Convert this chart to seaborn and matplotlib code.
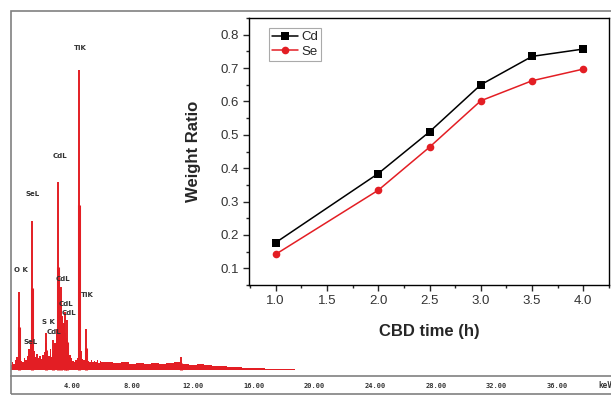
import numpy as np
import pandas as pd
import matplotlib
matplotlib.use("Agg")
import matplotlib.pyplot as plt
import matplotlib.patches as patches
from matplotlib.ticker import MultipleLocator, FormatStrFormatter
import seaborn as sns

# --- inset data: weight ratio vs CBD time ---
cbd_time = [1.0, 2.0, 2.5, 3.0, 3.5, 4.0]
cd_ratio = [0.177, 0.384, 0.509, 0.650, 0.735, 0.757]
se_ratio = [0.142, 0.334, 0.463, 0.602, 0.662, 0.697]

# --- EDS spectrum (background counts, arbitrary units) ---
bg_kev_lo = np.round(np.arange(0.0, 6.01, 0.1), 2)
bg_counts_lo = [5, 8, 6, 10, 14, 22, 16, 9, 8, 12, 10, 15, 22, 30, 27, 20, 14, 17, 13, 15,
                11, 16, 19, 28, 17, 15, 22, 14, 20, 28, 42, 58, 62, 66, 56, 48, 38, 30, 22, 16,
                12, 9, 8, 10, 12, 30, 20, 11, 10, 18, 14, 9, 8, 10, 8, 9, 8, 10, 7, 9, 8]
bg_kev_hi = np.round(np.arange(6.5, 20.01, 0.5), 2)
bg_counts_hi = [8, 7, 8, 6, 7, 6, 7, 6, 7, 8, 6, 5, 6, 5, 4, 4, 3, 3, 2, 2,
                2, 1.5, 1.5, 1, 1, 0.5, 0.5, 0.5]

# characteristic peaks (spikes)
peak_kev = [0.52, 1.38, 2.31, 2.77, 3.13, 3.32, 3.53, 3.72, 4.51, 4.93, 11.22]
peak_counts = [80, 153, 38, 31, 193, 85, 60, 52, 309, 42, 14]

# peak labels: text, energy, height
lab_text = ["TiK", "CdL", "SeL", "O K", "CdL", "TiK", "CdL", "CdL", "S K", "CdL", "SeL"]
lab_kev = [4.55, 3.23, 1.45, 0.65, 3.43, 5.05, 3.63, 3.83, 2.45, 2.85, 1.32]
lab_h = [331, 220, 181, 103, 94, 77, 68, 59, 50, 39, 29]

red = "#e31e24"
grey = "#808080"

sns.set_style("white")
plt.rcParams["font.family"] = ["Liberation Sans", "DejaVu Sans"]

fig = plt.figure(figsize=(6.11, 3.96), dpi=100)

# outer frame
fig.add_artist(patches.Rectangle((10.7 / 611, 2 / 396), 1.0, 383 / 396,
                                 transform=fig.transFigure, fill=False,
                                 edgecolor=grey, lw=1.2, zorder=3))

# spectrum axes
ax0 = fig.add_axes([11 / 611, 20 / 396, 600 / 611, 356 / 396])
ax0.set_zorder(0)
ax0.patch.set_alpha(0)
kev = np.concatenate([bg_kev_lo, bg_kev_hi])
cnt = np.concatenate([bg_counts_lo, bg_counts_hi])
ax0.fill_between(kev, 0, cnt, step="mid", color=red, lw=0)
ax0.vlines(peak_kev, 0, peak_counts, color=red, lw=1.4)
ax0.vlines(peak_kev, 0, np.array(peak_counts) * 0.55, color=red, lw=2.2)
for t, e, h in zip(lab_text, lab_kev, lab_h):
    ax0.text(e, h, t, fontsize=5, color="#333333", ha="center", va="center",
             family="DejaVu Sans", fontweight="bold")
ax0.set_xlim(0, 39.55)
ax0.set_ylim(-6, 360)
for s in ["left", "top", "right"]:
    ax0.spines[s].set_visible(False)
ax0.spines["bottom"].set_color(grey)
ax0.spines["bottom"].set_linewidth(1.2)
ax0.set_xticks([4, 8, 12, 16, 20, 24, 28, 32, 36])
ax0.xaxis.set_major_formatter(FormatStrFormatter("%.2f"))
ax0.tick_params(axis="x", direction="inout", length=4, width=1, color=grey,
                labelsize=5, labelcolor="#333333", pad=3)
for lb in ax0.get_xticklabels():
    lb.set_fontweight("bold")
    lb.set_family("DejaVu Sans Mono")
ax0.set_yticks([])
fig.text(598 / 611, 8 / 396, "keV", fontsize=5.5, fontweight="bold",
         color="#333333", family="DejaVu Sans Mono")

# inset white panel
fig.add_artist(patches.Rectangle((185 / 611, 50 / 396), 426 / 611, 333 / 396,
                                 transform=fig.transFigure, facecolor="white",
                                 edgecolor="none", zorder=0.5))

# inset line chart
ax = fig.add_axes([249 / 611, 111 / 396, 360 / 611, 267 / 396])
ax.set_zorder(1)
df = pd.DataFrame({
    "time": cbd_time * 2,
    "ratio": cd_ratio + se_ratio,
    "el": ["Cd"] * len(cbd_time) + ["Se"] * len(cbd_time),
})
sns.lineplot(data=df, x="time", y="ratio", hue="el", style="el",
             markers={"Cd": "s", "Se": "o"}, dashes=False,
             palette={"Cd": "black", "Se": red}, lw=1.1, ax=ax,
             markersize=5.5, markeredgewidth=0)
ax.set_xlim(0.74, 4.25)
ax.set_ylim(0.05, 0.85)
ax.xaxis.set_major_locator(MultipleLocator(0.5))
ax.xaxis.set_minor_locator(MultipleLocator(0.25))
ax.yaxis.set_major_locator(MultipleLocator(0.1))
ax.yaxis.set_minor_locator(MultipleLocator(0.05))
ax.xaxis.set_major_formatter(FormatStrFormatter("%.1f"))
ax.yaxis.set_major_formatter(FormatStrFormatter("%.1f"))
ax.tick_params(which="major", direction="out", length=4, width=1,
               labelsize=9.5, labelcolor="#333333", bottom=True, left=True)
ax.tick_params(which="minor", direction="out", length=2.5, width=1,
               bottom=True, left=True)
for s in ax.spines.values():
    s.set_color("black")
    s.set_linewidth(1.0)
ax.set_xlabel("CBD time (h)", fontsize=12, fontweight="bold", labelpad=12)
ax.set_ylabel("Weight Ratio", fontsize=12, fontweight="bold", labelpad=14)
leg = ax.legend(loc="upper left", bbox_to_anchor=(0.055, 0.963), fontsize=9.5,
                handlelength=2.0, handletextpad=0.2, borderpad=0.25,
                borderaxespad=0, labelspacing=0.15, fancybox=False, framealpha=1)
leg.get_frame().set_edgecolor("#aaaaaa")
leg.get_frame().set_linewidth(0.8)
leg.set_title(None)

fig.savefig("out.png", dpi=100)
